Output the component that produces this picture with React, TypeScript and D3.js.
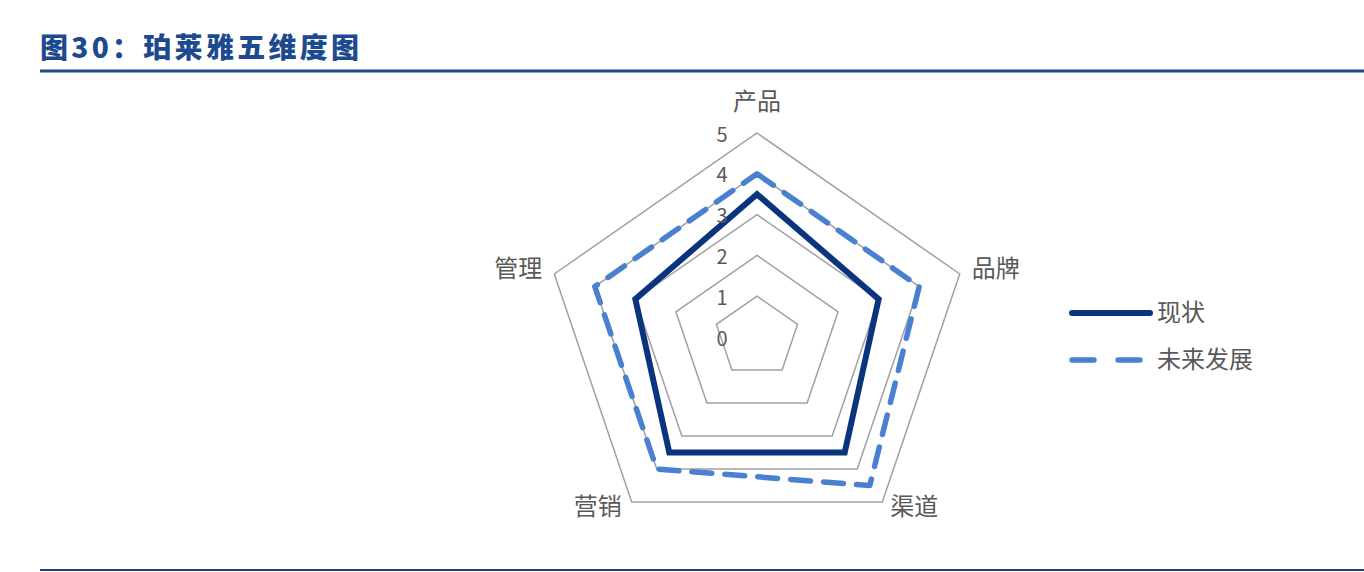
import React, { useEffect, useRef } from "react";
import * as d3 from "d3";

const axes = ["产品", "品牌", "渠道", "营销", "管理"];
const seriesNames = ["现状", "未来发展"];
const current = [3.5, 3, 3.5, 3.5, 3];
const future = [4, 4, 4.5, 4, 4];
const ticks = [0, 1, 2, 3, 4, 5];

const App: React.FC = () => {
    const svgRef = useRef<SVGSVGElement | null>(null);
    const solidColor = "#0a357e";
    const dashColor = "#4a80d0";
    const gridColor = "#a0a0a6";
    const textColor = "#595959";
    const font = "'Noto Sans CJK SC', 'Noto Sans', sans-serif";

    useEffect(() => {
        const svg = d3.select(svgRef.current);
        svg.selectAll("*").remove();

        const cx = 757;
        const cy = 337;
        const sx = 1.045; // picture is a little wider than tall
        const r = d3.scaleLinear().domain([0, 5]).range([0, 204]);
        const angle = d3.scaleLinear().domain([0, axes.length]).range([0, 2 * Math.PI]);

        const pt = (i: number, v: number): [number, number] => [
            cx + Math.sin(angle(i)) * r(v) * sx,
            cy - Math.cos(angle(i)) * r(v),
        ];
        const ring = d3.line<[number, number]>().curve(d3.curveLinearClosed);

        // title
        svg.append("text").attr("x", 40).attr("y", 58).text("图30：珀莱雅五维度图")
            .style("font-family", "'Noto Sans CJK SC', sans-serif").style("font-weight", 900)
            .style("font-size", "28px").style("letter-spacing", "3.3px").attr("fill", "#1d4a8e");
        svg.append("line").attr("x1", 40).attr("x2", 1364).attr("y1", 71).attr("y2", 71)
            .attr("stroke", "#1d4a8e").attr("stroke-width", 3);
        svg.append("line").attr("x1", 40).attr("x2", 1364).attr("y1", 570).attr("y2", 570)
            .attr("stroke", "#1d3f7a").attr("stroke-width", 2);

        // grid
        ticks.filter((t) => t > 0).forEach((t) => {
            svg.append("path").attr("d", ring(axes.map((_, i) => pt(i, t))))
                .attr("fill", "none").attr("stroke", gridColor).attr("stroke-width", 1.5);
        });

        // series
        svg.append("path").attr("d", ring(future.map((v, i) => pt(i, v))))
            .attr("fill", "none").attr("stroke", dashColor).attr("stroke-width", 5.5)
            .attr("stroke-dasharray", "20,13").attr("stroke-linecap", "round").attr("stroke-linejoin", "round");
        svg.append("path").attr("d", ring(current.map((v, i) => pt(i, v))))
            .attr("fill", "none").attr("stroke", solidColor).attr("stroke-width", 6)
            .attr("stroke-linejoin", "miter");

        // tick labels
        ticks.forEach((t) => {
            svg.append("text").attr("x", cx - 35).attr("y", cy - r(t)).text(t)
                .attr("text-anchor", "middle").attr("dominant-baseline", "central")
                .style("font-family", font).style("font-size", "20px").attr("fill", textColor);
        });

        // axis labels
        const labelOff: [number, number][] = [[0, -34], [36, -7], [32, 2], [-34, 2], [-36, -7]];
        axes.forEach((a, i) => {
            const [x, y] = pt(i, 5);
            svg.append("text").attr("x", x + labelOff[i][0]).attr("y", y + labelOff[i][1])
                .text(a).attr("text-anchor", "middle").attr("dominant-baseline", "central")
                .style("font-family", font).style("font-size", "24px").attr("fill", textColor);
        });

        // legend
        const lg = svg.append("g").attr("transform", "translate(1070,313)");
        seriesNames.forEach((name, i) => {
            const y = i * 47;
            lg.append("line").attr("x1", 2).attr("x2", 80).attr("y1", y).attr("y2", y)
                .attr("stroke", i === 0 ? solidColor : dashColor).attr("stroke-width", i === 0 ? 6 : 5.5)
                .attr("stroke-linecap", "round")
                .attr("stroke-dasharray", i === 0 ? null : "22,24");
            lg.append("text").attr("x", 87).attr("y", y - 3).text(name).attr("dominant-baseline", "central")
                .style("font-family", font).style("font-size", "24px").attr("fill", textColor);
        });
    }, []);

    return (
        <div style={{ position: "absolute", left: 0, top: 0 }}>
            <svg ref={svgRef} width={1364} height={572} style={{ display: "block", background: "#fff" }}></svg>
        </div>
    );
};

export default App;
